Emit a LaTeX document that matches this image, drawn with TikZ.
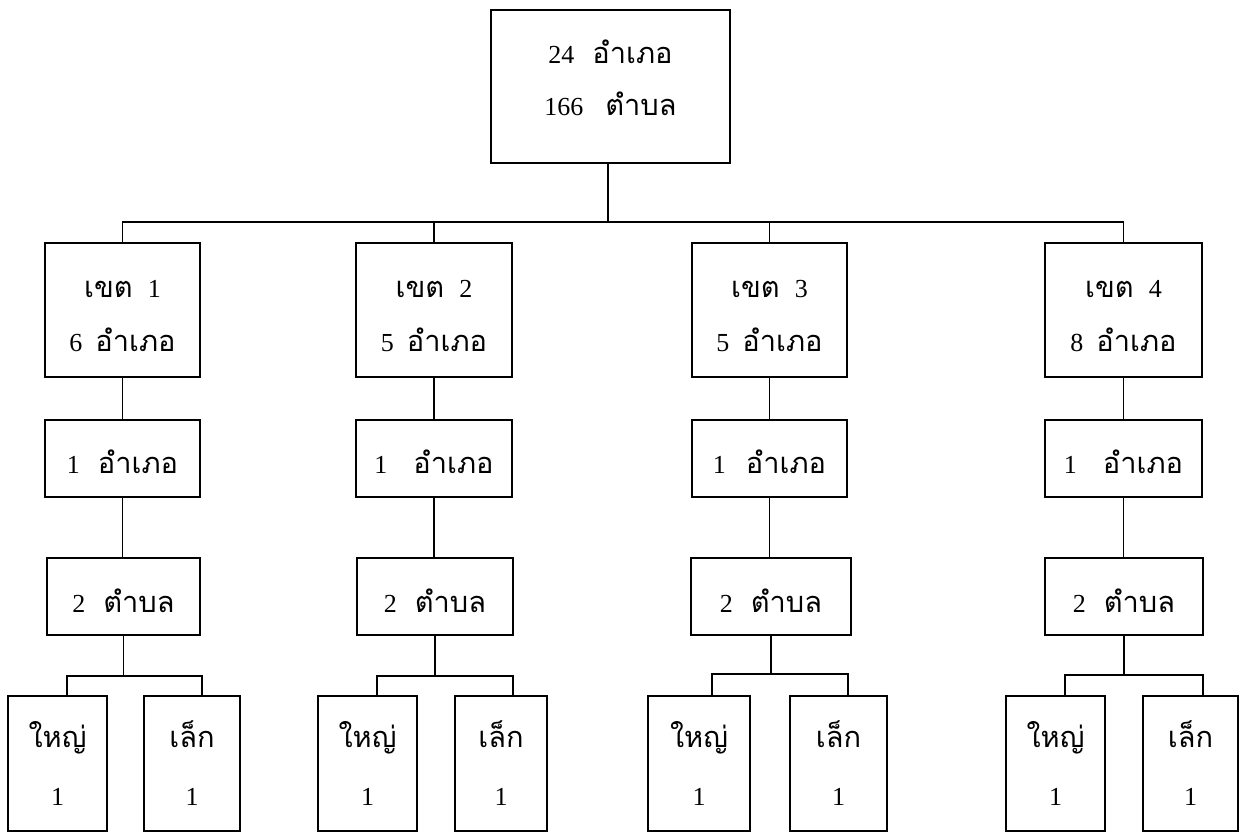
\documentclass[tikz,border=0pt]{standalone}
\usepackage{fontspec}
\setmainfont{Liberation Serif}
\newfontfamily\thx[Script=Thai]{Loma}
\begin{document}
\begin{tikzpicture}[x=1pt,y=-1pt,
  bx/.style={draw,line width=1.5pt,inner sep=0pt},
  tx/.style={inner sep=0pt,align=center,font=\fontsize{26}{54}\selectfont},
  ln/.style={line width=1.3pt}]
\useasboundingbox (0,0) rectangle (1240,833);
\newcommand{\T}[1]{{\thx\fontsize{29}{54}\selectfont #1}}
% top
\node[bx,minimum width=239pt,minimum height=153pt] (top) at (610.5,86.5) {};
\node[tx] (topt) at ([yshift=9pt]top.center)
  {24\hspace{18pt}\T{อำเภอ}\\[-2pt] 166\hspace{22pt}\T{ตำบล}};
% level 1
\node[bx,minimum width=155pt,minimum height=134pt] (a1) at (122.5,310) {};
\node[bx,minimum width=156pt,minimum height=134pt] (a2) at (434,310) {};
\node[bx,minimum width=155pt,minimum height=134pt] (a3) at (769.5,310) {};
\node[bx,minimum width=157pt,minimum height=134pt] (a4) at (1123.5,310) {};
\node[tx] (a1t) at ([yshift=-6pt]a1.center) {\T{เขต}\hspace{15pt}1\\[0pt]6\hspace{13pt}\T{อำเภอ}};
\node[tx] (a2t) at ([yshift=-6pt]a2.center) {\T{เขต}\hspace{15pt}2\\[0pt]5\hspace{13pt}\T{อำเภอ}};
\node[tx] (a3t) at ([yshift=-6pt]a3.center) {\T{เขต}\hspace{15pt}3\\[0pt]5\hspace{13pt}\T{อำเภอ}};
\node[tx] (a4t) at ([yshift=-6pt]a4.center) {\T{เขต}\hspace{15pt}4\\[0pt]8\hspace{13pt}\T{อำเภอ}};
% level 2
\node[bx,minimum width=155pt,minimum height=77pt] (b1) at (122.5,458.5) {};
\node[bx,minimum width=156pt,minimum height=77pt] (b2) at (434,458.5) {};
\node[bx,minimum width=155pt,minimum height=77pt] (b3) at (769.5,458.5) {};
\node[bx,minimum width=157pt,minimum height=77pt] (b4) at (1123.5,458.5) {};
\node[tx] (b1t) at ([yshift=-3pt]b1.center) {1\hspace{18pt}\T{อำเภอ}};
\node[tx] (b2t) at ([yshift=-3pt]b2.center) {1\hspace{26pt}\T{อำเภอ}};
\node[tx] (b3t) at ([yshift=-3pt]b3.center) {1\hspace{20pt}\T{อำเภอ}};
\node[tx] (b4t) at ([yshift=-3pt]b4.center) {1\hspace{26pt}\T{อำเภอ}};
% level 3
\node[bx,minimum width=153pt,minimum height=77pt] (c1) at (123.5,596.5) {};
\node[bx,minimum width=156pt,minimum height=77pt] (c2) at (435,596.5) {};
\node[bx,minimum width=160pt,minimum height=77pt] (c3) at (771,596.5) {};
\node[bx,minimum width=158pt,minimum height=77pt] (c4) at (1124,596.5) {};
\node[tx] (c1t) at ([yshift=-4pt]c1.center) {2\hspace{18pt}\T{ตำบล}};
\node[tx] (c2t) at ([yshift=-4pt]c2.center) {2\hspace{18pt}\T{ตำบล}};
\node[tx] (c3t) at ([yshift=-4pt]c3.center) {2\hspace{18pt}\T{ตำบล}};
\node[tx] (c4t) at ([yshift=-4pt]c4.center) {2\hspace{18pt}\T{ตำบล}};
% leaves
\node[bx,tx,minimum width=99pt,minimum height=135pt] (d1a) at (57.5,763.5) {\T{ใหญ่}\\[4pt]1};
\node[bx,tx,minimum width=96pt,minimum height=135pt] (d1b) at (192,763.5) {\T{เล็ก}\\[4pt]1};
\node[bx,tx,minimum width=99pt,minimum height=135pt] (d2a) at (367.5,763.5) {\T{ใหญ่}\\[4pt]1};
\node[bx,tx,minimum width=92pt,minimum height=135pt] (d2b) at (501,763.5) {\T{เล็ก}\\[4pt]1};
\node[bx,tx,minimum width=102pt,minimum height=135pt] (d3a) at (699,763.5) {\T{ใหญ่}\\[4pt]1};
\node[bx,tx,minimum width=97pt,minimum height=135pt] (d3b) at (838.5,763.5) {\T{เล็ก}\\[4pt]1};
\node[bx,tx,minimum width=99pt,minimum height=135pt] (d4a) at (1055.5,763.5) {\T{ใหญ่}\\[4pt]1};
\node[bx,tx,minimum width=95pt,minimum height=135pt] (d4b) at (1190.5,763.5) {\T{เล็ก}\\[4pt]1};
% bus coordinates
\coordinate (bus) at (608,222);
\coordinate (k1l) at (67,676);  \coordinate (k1r) at (202,676);
\coordinate (k2l) at (377,676); \coordinate (k2r) at (513,676);
\coordinate (k3l) at (712,674); \coordinate (k3r) at (848,674);
\coordinate (k4l) at (1065,675);\coordinate (k4r) at (1203,675);
% connectors
\draw[ln] (top.south -| bus) -- (bus);
\draw[ln] (a1.north) -- (a1.north |- bus) -- (a4.north |- bus) -- (a4.north);
\draw[ln] (a2.north) -- (a2.north |- bus);
\draw[ln] (a3.north) -- (a3.north |- bus);
\foreach \i in {1,2,3,4}{
  \draw[ln] (a\i.south) -- (a\i.south |- b\i.north);
  \draw[ln] (b\i.south) -- (b\i.south |- c\i.north);
  \draw[ln] (c\i.south) -- (c\i.south |- k\i l);
  \draw[ln] (k\i l |- d\i a.north) -- (k\i l) -- (k\i r) -- (k\i r |- d\i b.north);
}
\end{tikzpicture}
\end{document}
